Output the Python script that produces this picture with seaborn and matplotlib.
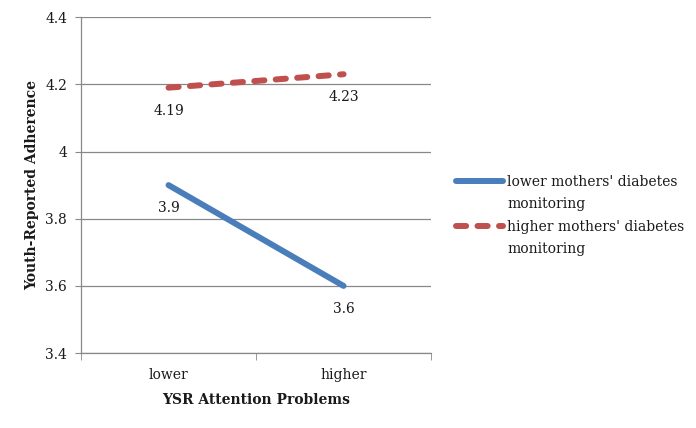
import pandas as pd
import matplotlib.pyplot as plt
import seaborn as sns

# values
categories = ["lower", "higher"]
low_monitoring = [3.9, 3.6]
high_monitoring = [4.19, 4.23]
series_names = ["lower mothers' diabetes monitoring", "higher mothers' diabetes monitoring"]

df = pd.DataFrame({
    "x": [0.5, 1.5, 0.5, 1.5],
    "value": low_monitoring + high_monitoring,
    "group": [series_names[0]] * 2 + [series_names[1]] * 2,
})

sns.set_style("white")
plt.rcParams["font.family"] = ["DejaVu Serif"]

fig = plt.figure(figsize=(6.96, 4.28), dpi=100)
ax = fig.add_axes([0.1164, 0.175, 0.503, 0.785])

colors = {series_names[0]: "#4a7ebb", series_names[1]: "#c0504d"}
sns.lineplot(data=df, x="x", y="value", hue="group", palette=colors,
             linewidth=4.3, ax=ax, legend=False)
ax.lines[1].set_dashes([1.7, 1.9])
for ln in ax.lines:
    ln.set_solid_capstyle("round")
    ln.set_dash_capstyle("round")

# data labels under each point
for xi, v in zip(df["x"], df["value"]):
    ax.annotate(f"{v:g}", (xi, v), xytext=(0, -11.5), textcoords="offset points",
                ha="center", va="top", fontsize=10, color="#1a1a1a")

ax.set_xlim(0, 2)
ax.set_ylim(3.4, 4.4)
ax.set_yticks([3.4, 3.6, 3.8, 4.0, 4.2, 4.4])
ax.set_yticklabels(["3.4", "3.6", "3.8", "4", "4.2", "4.4"])
ax.set_xticks([0.5, 1.5])
ax.set_xticklabels(categories)
ax.set_xticks([0, 1, 2], minor=True)
ax.tick_params(axis="x", which="major", length=0, pad=11, labelsize=10, labelcolor="#1a1a1a")
ax.tick_params(axis="x", which="minor", length=5, color="#888888", direction="out", bottom=True)
ax.tick_params(axis="y", length=4, color="#888888", direction="out", left=True, labelsize=10,
               pad=6, labelcolor="#1a1a1a")
ax.grid(axis="y", color="#888888", linewidth=0.9)
ax.set_axisbelow(True)
for s in ["top", "right"]:
    ax.spines[s].set_visible(False)
for s in ["left", "bottom"]:
    ax.spines[s].set_color("#888888")
    ax.spines[s].set_linewidth(0.9)

ax.set_xlabel("YSR Attention Problems", fontsize=10, fontweight="bold", labelpad=8, color="#1a1a1a")
ax.set_ylabel("Youth-Reported Adherence", fontsize=10, fontweight="bold", labelpad=4, color="#1a1a1a")

# legend: each entry wraps onto a second line, handle sits on the first line
handles, labels = [], []
for n in series_names:
    h = plt.Line2D([], [], color=colors[n], linewidth=4.3, solid_capstyle="round",
                   dash_capstyle="round")
    if n == series_names[1]:
        h.set_dashes([1.7, 1.9])
    first, second = n.rsplit(" ", 1)
    handles += [h, plt.Line2D([], [], color="none")]
    labels += [first, second]
leg = fig.legend(handles, labels, loc="upper left", bbox_to_anchor=(0.637, 0.62),
                 frameon=False, fontsize=10, handlelength=3.4, handletextpad=0.3,
                 labelspacing=0.6)
for t in leg.get_texts():
    t.set_color("#1a1a1a")

fig.savefig("out.png", dpi=100)
